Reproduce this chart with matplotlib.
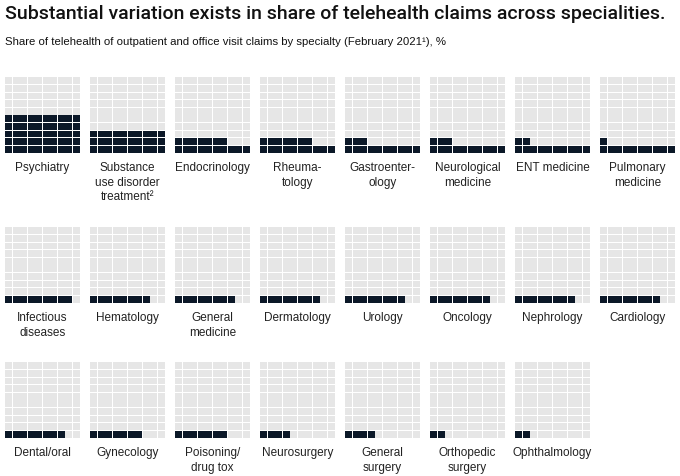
import matplotlib.pyplot as plt
from matplotlib.patches import Rectangle

labels = [
    "Psychiatry", "Substance\nuse disorder\ntreatment²", "Endocrinology", "Rheuma-\ntology",
    "Gastroenter-\nology", "Neurological\nmedicine", "ENT medicine", "Pulmonary\nmedicine",
    "Infectious\ndiseases", "Hematology", "General\nmedicine", "Dermatology",
    "Urology", "Oncology", "Nephrology", "Cardiology",
    "Dental/oral", "Gynecology", "Poisoning/\ndrug tox", "Neurosurgery",
    "General\nsurgery", "Orthopedic\nsurgery", "Ophthalmology",
]
shares = [50, 30, 17, 17, 13, 13, 12, 11,
          9, 8, 8, 8, 8, 8, 8, 8,
          8, 7, 7, 4, 4, 2, 2]

W, H = 680, 476
dark = "#0b1828"
light = "#e6e6e6"
row_tops = [77, 227, 362]

fig = plt.figure(figsize=(W / 100, H / 100), dpi=100)
fig.patch.set_facecolor("white")

fig.text(5 / W, 1 - 5 / H, "Substantial variation exists in share of telehealth claims across specialities.",
         fontsize=14, fontweight="medium", family="Roboto", color="#111111", va="top", ha="left")
fig.text(5 / W, 1 - 37 / H, "Share of telehealth of outpatient and office visit claims by specialty (February 2021¹), %",
         fontsize=8.2, family="Liberation Sans", color="#111111", va="top", ha="left")

for i, (lab, val) in enumerate(zip(labels, shares)):
    r, c = divmod(i, 8)
    x0 = 5 + 85 * c
    y0 = row_tops[r]
    ax = fig.add_axes([x0 / W, 1 - (y0 + 76) / H, 75 / W, 76 / H])
    ax.set_xlim(0, 10)
    ax.set_ylim(0, 10)
    ax.axis("off")
    for k in range(100):
        yy, xx = divmod(k, 10)
        col = dark if k < val else light
        ax.add_patch(Rectangle((xx + 0.06, yy + 0.06), 0.88, 0.88, facecolor=col, edgecolor="none"))
    fig.text((x0 + 37.5) / W, 1 - (y0 + 85) / H, lab, ha="center", va="top",
             fontsize=8.5, family="Liberation Sans", color="#222222", linespacing=1.3)

fig.savefig("out.png", dpi=100)
